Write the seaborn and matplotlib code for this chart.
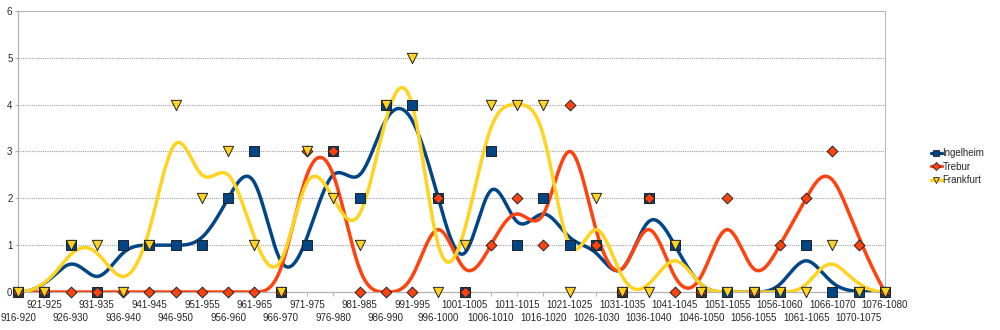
import numpy as np
import pandas as pd
import matplotlib
matplotlib.use("Agg")
import matplotlib.pyplot as plt
from matplotlib.lines import Line2D
import seaborn as sns

categories = ["916-920", "921-925", "926-930", "931-935", "936-940", "941-945",
              "946-950", "951-955", "956-960", "961-965", "966-970", "971-975",
              "976-980", "981-985", "986-990", "991-995", "996-1000", "1001-1005",
              "1006-1010", "1011-1015", "1016-1020", "1021-1025", "1026-1030",
              "1031-1035", "1036-1040", "1041-1045", "1046-1050", "1051-1055",
              "1056-1055", "1056-1060", "1061-1065", "1066-1070", "1070-1075",
              "1076-1080"]
ingelheim = [0, 0, 1, 0, 1, 1, 1, 1, 2, 3, 0, 1, 3, 2, 4, 4, 2, 0, 3, 1, 2, 1, 1, 0,
             2, 1, 0, 0, 0, 0, 1, 0, 0, 0]
trebur = [0, 0, 0, 0, 0, 0, 0, 0, 0, 0, 0, 3, 3, 0, 0, 0, 2, 0, 1, 2, 1, 4, 1, 0,
          2, 0, 0, 2, 0, 1, 2, 3, 1, 0]
frankfurt = [0, 0, 1, 1, 0, 1, 4, 2, 3, 1, 0, 3, 2, 1, 4, 5, 0, 1, 4, 4, 4, 0, 2, 0,
             0, 1, 0, 0, 0, 0, 0, 1, 0, 0]
series_names = ["Ingelheim", "Trebur", "Frankfurt"]
y_ticks = [0, 1, 2, 3, 4, 5, 6]

colors = {"Ingelheim": "#004586", "Trebur": "#ff420e", "Frankfurt": "#ffd320"}
markers = {"Ingelheim": "s", "Trebur": "D", "Frankfurt": "v"}
msizes = {"Ingelheim": 48, "Trebur": 30, "Frankfurt": 55}


def bspline_basis(n, k, t):
    knots = np.concatenate([np.zeros(k), np.arange(n - k + 1), np.full(k, n - k)]).astype(float)
    m = len(knots) - 1
    B = np.zeros((len(t), m))
    for i in range(m):
        B[:, i] = (t >= knots[i]) & (t < knots[i + 1])
    last = max(i for i in range(m) if knots[i + 1] > knots[i])
    B[t >= knots[-1], last] = 1.0
    for d in range(1, k + 1):
        Bn = np.zeros((len(t), m - d))
        for i in range(m - d):
            left = knots[i + d] - knots[i]
            right = knots[i + d + 1] - knots[i + 1]
            term = np.zeros(len(t))
            if left > 0:
                term += (t - knots[i]) / left * B[:, i]
            if right > 0:
                term += (knots[i + d + 1] - t) / right * B[:, i + 1]
            Bn[:, i] = term
        B = Bn
    return B


sns.set_style("white")
plt.rcParams["font.family"] = ["Liberation Sans", "DejaVu Sans"]

fig = plt.figure(figsize=(10, 3.3), dpi=100)
ax = fig.add_axes([0.018, 0.115, 0.867, 0.852])

xs = np.arange(len(categories), dtype=float)
t = np.linspace(0, len(categories) - 3, 1200)
Bm = bspline_basis(len(categories), 3, t)

data = {"Ingelheim": ingelheim, "Trebur": trebur, "Frankfurt": frankfurt}
for name in series_names:
    vals = np.asarray(data[name], dtype=float)
    cx = Bm @ xs
    cy = Bm @ vals
    curve = pd.DataFrame({"x": cx, "y": cy})
    sns.lineplot(data=curve, x="x", y="y", sort=False, estimator=None,
                 color=colors[name], lw=2.5, ax=ax, zorder=3)
    pts = pd.DataFrame({"x": xs, "y": vals})
    sns.scatterplot(data=pts, x="x", y="y", marker=markers[name], s=msizes[name],
                    color=colors[name], edgecolor="#222222", linewidth=0.7,
                    ax=ax, zorder=4, clip_on=False)

ax.set_xlim(0, len(categories) - 1)
ax.set_ylim(0, 6)
ax.set_yticks(y_ticks)
ax.set_yticklabels([str(v) for v in y_ticks], fontsize=7)
ax.set_xlabel("")
ax.set_ylabel("")

even = list(range(0, len(categories), 2))
odd = list(range(1, len(categories), 2))
ax.set_xticks(even)
ax.set_xticklabels([categories[i] for i in even], fontsize=7)
ax.set_xticks(odd, minor=True)
ax.set_xticklabels([categories[i] for i in odd], minor=True, fontsize=7)
ax.tick_params(axis="x", which="major", pad=12, length=3, color="#b3b3b3", direction="out")
ax.tick_params(axis="x", which="minor", pad=3, length=3, color="#b3b3b3", direction="out")
ax.tick_params(axis="y", pad=2, length=2, color="#b3b3b3", direction="out")
ax.xaxis.set_ticks_position("bottom")
ax.yaxis.set_ticks_position("left")

ax.grid(False)
for yv in y_ticks[1:]:
    ax.axhline(yv, color="#a0a0a0", lw=0.8, ls=(0, (1, 1)), zorder=1)
for side in ["left", "bottom"]:
    ax.spines[side].set_color("#b3b3b3")
    ax.spines[side].set_linewidth(0.9)
for side in ["top", "right"]:
    ax.spines[side].set_color("#b8b8b8")
    ax.spines[side].set_linewidth(0.8)
    ax.spines[side].set_linestyle((0, (1, 1)))

handles = [Line2D([0], [0], color=colors[n], lw=2.4, marker=markers[n],
                  markersize=5 if n != "Trebur" else 4, markerfacecolor=colors[n],
                  markeredgecolor="#222222", markeredgewidth=0.6) for n in series_names]
fig.legend(handles, series_names, loc="center left", bbox_to_anchor=(0.927, 0.495),
           frameon=False, fontsize=7, handlelength=1.1, handletextpad=0.1,
           labelspacing=0.35, borderaxespad=0)

fig.savefig("out.png", dpi=100)
